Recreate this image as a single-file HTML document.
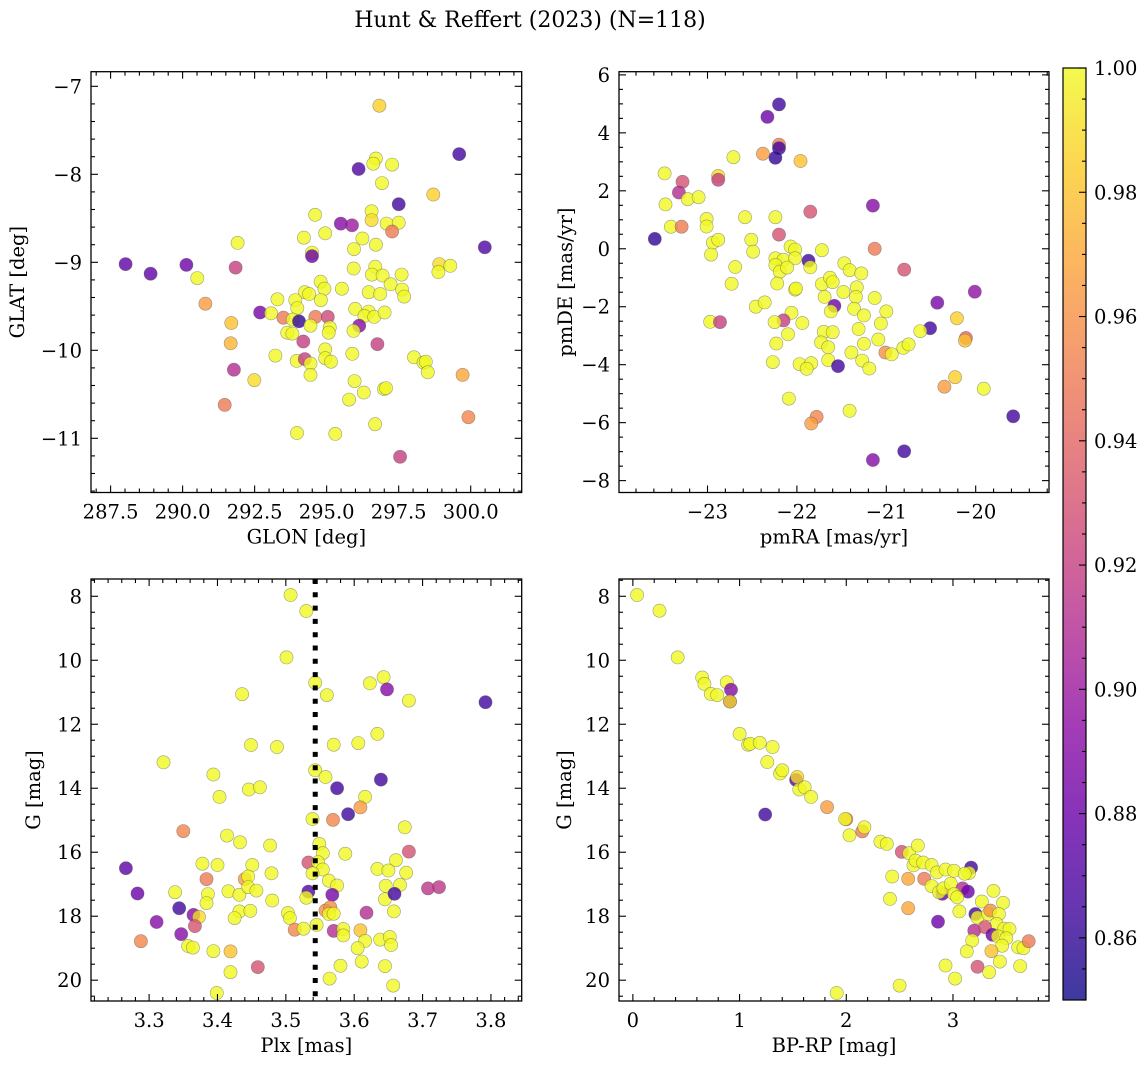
<!DOCTYPE html>
<html><head><meta charset="utf-8"><style>
html,body{margin:0;padding:0;background:#fff;}
svg{display:block;font-family:"DejaVu Serif","Liberation Serif",serif;}
</style></head><body>
<svg id="fig" width="1148" height="1068" viewBox="0 0 1148 1068" xmlns="http://www.w3.org/2000/svg">
<text x="530" y="27" font-size="22" text-anchor="middle">Hunt &amp; Reffert (2023) (N=118)</text>
</svg>
<script>
// ---- Panel 1: GLON vs GLAT ----
const glon1 = [296.83,299.6,296.11,296.71,296.62,297.27,296.92,298.70,297.5,294.6,296.56,296.56,297.08,297.5,297.27,295.49,295.88,294.21,294.95,296.24,295.95,296.71,291.91,294.49,294.49,300.49,288.02,288.89,290.13,291.84,290.51,295.94,296.69,296.57,296.94,297.6,298.91,298.88,299.29,294.79,294.92,295.53,297.22,294.24,294.39,296.46,296.86,297.62,297.69,293.29,293.91,294.80,293.98,290.79,292.69,293.07,293.5,293.82,294.04,294.61,295.04,295.99,296.46,296.31,296.65,297.01,291.69,294.44,295.11,295.07,296.13,295.93,293.63,293.81,291.67,294.19,296.76,294.95,295.89,293.22,294.95,295.15,293.96,294.24,294.44,298.03,298.36,298.44,298.51,291.78,294.44,292.49,295.97,296.99,297.06,296.29,295.78,299.72,291.46,299.92,296.68,293.97,295.3,297.55];
const glat1 = [-7.22,-7.77,-7.94,-7.82,-7.88,-7.89,-8.10,-8.23,-8.34,-8.46,-8.42,-8.52,-8.56,-8.55,-8.65,-8.56,-8.58,-8.72,-8.67,-8.73,-8.85,-8.80,-8.78,-8.89,-8.93,-8.83,-9.02,-9.13,-9.03,-9.06,-9.18,-9.07,-9.05,-9.14,-9.15,-9.14,-9.02,-9.11,-9.04,-9.22,-9.30,-9.30,-9.25,-9.34,-9.36,-9.34,-9.36,-9.31,-9.39,-9.42,-9.43,-9.43,-9.52,-9.47,-9.57,-9.58,-9.63,-9.65,-9.67,-9.62,-9.62,-9.53,-9.56,-9.61,-9.62,-9.57,-9.69,-9.72,-9.74,-9.80,-9.72,-9.78,-9.80,-9.81,-9.92,-9.90,-9.93,-9.99,-10.04,-10.06,-10.09,-10.13,-10.12,-10.10,-10.15,-10.08,-10.14,-10.13,-10.25,-10.22,-10.28,-10.34,-10.35,-10.44,-10.43,-10.48,-10.56,-10.28,-10.62,-10.76,-10.84,-10.94,-10.95,-11.21];
const prob1 = [.985,.865,.87,1,1,1,1,.985,.865,1,1,.99,1,1,.95,.89,.9,1,1,1,1,1,1,1,.88,.87,.875,.875,.88,.92,1,1,1,1,1,1,.99,1,1,1,1,1,1,1,1,1,1,1,1,1,1,1,1,.965,.885,1,.95,1,.86,.95,.925,1,1,1,1,1,.98,1,1,1,.89,1,1,1,.975,.92,.92,1,1,1,1,1,1,.92,1,1,1,1,1,.91,1,.99,1,1,1,1,1,.97,.95,.955,1,1,1,.92];

// ---- Panel 2: pmRA vs pmDE ----
const pmra2 = [-22.20,-22.33,-22.20,-22.20,-22.24,-22.38,-21.96,-22.71,-23.48,-23.28,-23.32,-22.88,-22.88,-23.47,-23.22,-23.10,-21.15,-21.85,-23.01,-23.01,-22.58,-22.24,-23.41,-23.29,-23.59,-22.20,-22.94,-22.88,-22.96,-22.51,-22.49,-22.07,-22.02,-21.72,-21.13,-22.24,-22.15,-22.02,-21.87,-21.85,-22.69,-22.24,-22.19,-22.11,-21.47,-21.41,-21.28,-20.80,-22.73,-22.22,-22.02,-22.01,-21.72,-21.63,-21.60,-21.48,-21.33,-21.34,-21.69,-21.58,-21.62,-21.36,-21.13,-22.46,-22.36,-20.01,-20.43,-21.25,-21.0,-22.06,-22.97,-22.86,-22.15,-22.25,-21.94,-20.21,-20.51,-20.62,-21.06,-21.31,-21.70,-21.60,-22.10,-20.11,-20.12,-21.09,-21.25,-21.73,-21.65,-22.23,-21.39,-21.01,-20.94,-20.81,-20.75,-21.27,-21.65,-21.19,-21.54,-22.27,-21.97,-21.84,-21.89,-20.35,-20.23,-19.91,-22.09,-21.41,-21.78,-21.84,-19.58,-20.80,-21.15];
const pmde2 = [4.98,4.55,3.59,3.47,3.14,3.28,3.03,3.16,2.60,2.31,1.94,2.51,2.38,1.53,1.71,1.78,1.49,1.28,1.03,0.77,1.09,1.09,0.76,0.76,0.34,0.49,0.21,0.31,-0.20,0.31,-0.10,0.08,-0.03,-0.05,0.0,-0.33,-0.38,-0.33,-0.41,-0.64,-0.63,-0.56,-0.79,-0.65,-0.50,-0.74,-0.85,-0.72,-1.21,-1.20,-1.41,-1.37,-1.22,-1.00,-1.15,-1.49,-1.33,-1.66,-1.66,-1.97,-2.16,-2.07,-1.70,-2.0,-1.85,-1.48,-1.86,-2.30,-2.16,-2.21,-2.52,-2.53,-2.47,-2.53,-2.56,-2.40,-2.74,-2.84,-2.58,-2.77,-2.87,-2.88,-2.95,-3.08,-3.17,-3.13,-3.28,-3.23,-3.40,-3.27,-3.58,-3.58,-3.64,-3.42,-3.30,-3.86,-3.84,-4.13,-4.05,-3.91,-3.98,-3.95,-4.14,-4.76,-4.43,-4.83,-5.17,-5.59,-5.80,-6.03,-5.78,-6.99,-7.29];
const prob2 = [.865,.88,.95,.865,.86,.965,.98,1,1,.93,.91,.99,.92,1,1,1,.89,.93,1,1,1,1,1,.95,.86,.93,1,1,1,1,1,1,1,1,.95,1,1,1,.865,1,1,1,1,1,1,1,1,.93,1,1,1,1,1,1,1,1,1,1,1,.88,1,1,1,1,1,.895,.885,1,1,1,1,.92,.92,1,1,.985,.865,1,1,1,1,1,1,.94,.98,1,1,1,1,1,1,.96,1,1,1,1,1,1,.865,1,1,1,1,.965,.985,1,1,1,.955,.965,.865,.865,.89];

// ---- Panel 3: Plx vs G ----
const plx3 = [3.507,3.530,3.501,3.543,3.560,3.643,3.623,3.648,3.680,3.792,3.436,3.321,3.449,3.487,3.570,3.606,3.634,3.394,3.403,3.446,3.462,3.543,3.558,3.575,3.639,3.616,3.609,3.591,3.569,3.539,3.674,3.350,3.414,3.433,3.477,3.549,3.554,3.587,3.680,3.661,3.266,3.378,3.400,3.451,3.533,3.547,3.554,3.634,3.650,3.676,3.479,3.384,3.440,3.445,3.539,3.563,3.575,3.646,3.667,3.708,3.724,3.283,3.338,3.386,3.416,3.432,3.445,3.457,3.533,3.530,3.568,3.645,3.659,3.384,3.480,3.344,3.365,3.373,3.432,3.425,3.448,3.503,3.506,3.558,3.565,3.563,3.570,3.618,3.658,3.311,3.367,3.347,3.288,3.513,3.526,3.545,3.570,3.584,3.584,3.609,3.616,3.638,3.652,3.654,3.605,3.357,3.364,3.394,3.419,3.611,3.580,3.645,3.459,3.419,3.564,3.657,3.399];
const gmag3 = [7.96,8.46,9.91,10.70,11.09,10.53,10.72,10.91,11.26,11.31,11.06,13.19,12.65,12.71,12.64,12.59,12.30,13.57,14.27,14.04,13.97,13.44,13.65,14.0,13.73,14.27,14.60,14.81,14.99,14.96,15.22,15.34,15.48,15.69,15.79,15.74,16.03,16.05,15.98,16.25,16.5,16.36,16.40,16.40,16.32,16.31,16.54,16.52,16.57,16.64,16.66,16.84,16.84,16.76,16.66,16.89,17.04,17.05,17.02,17.13,17.09,17.29,17.25,17.31,17.22,17.33,17.09,17.20,17.23,17.42,17.33,17.47,17.30,17.59,17.51,17.75,17.96,18.02,17.85,18.06,17.83,17.90,18.06,17.82,17.72,17.93,17.92,17.89,17.85,18.18,18.31,18.56,18.78,18.42,18.39,18.27,18.46,18.40,18.60,18.44,18.77,18.73,18.65,18.90,19.00,18.93,18.98,19.09,19.10,19.42,19.55,19.56,19.59,19.75,19.95,20.17,20.40];
const prob3 = [1,1,1,1,1,1,1,.89,1,.865,1,1,1,1,1,1,1,1,1,1,1,1,1,.865,.865,1,.965,.865,.955,1,1,.955,1,1,1,1,1,1,.93,1,.875,1,1,1,.93,1,1,1,1,1,1,.95,.965,1,1,1,1,1,1,.915,.915,.88,1,1,1,1,1,1,.87,1,.885,1,.865,1,1,.865,.89,.99,1,1,1,1,1,.96,.96,1,1,.91,1,.89,.93,.89,.955,.955,1,1,.91,1,1,.98,1,1,1,1,1,1,1,1,.98,1,1,1,.93,1,1,1,1];
const plxCut = 3.543;

// ---- Panel 4: BP-RP vs G ----
const bprp4 = [0.04,0.25,0.42,0.65,0.67,0.73,0.79,0.88,0.92,0.91,0.91,1.00,1.08,1.10,1.19,1.31,1.26,1.38,1.40,1.53,1.54,1.56,1.61,1.67,1.24,1.82,2.00,1.99,2.03,2.15,2.17,2.32,2.38,2.52,2.59,2.67,2.63,2.65,2.72,2.80,2.85,2.93,3.01,3.17,3.15,3.11,2.43,2.58,2.73,2.80,2.90,2.87,2.91,2.98,3.09,3.14,3.01,3.04,2.41,2.58,3.06,2.86,3.38,3.27,3.47,3.21,3.23,3.33,3.35,3.43,3.41,3.48,3.53,3.20,3.30,3.37,3.42,3.50,3.46,3.18,3.13,3.36,3.61,3.66,3.71,3.44,3.23,3.34,3.63,2.93,3.02,2.50,1.91];
const gmag4 = [7.96,8.45,9.91,10.54,10.74,11.05,11.09,10.69,10.92,11.29,11.29,12.30,12.64,12.61,12.58,12.71,13.18,13.54,13.44,13.74,13.65,14.04,13.97,14.27,14.82,14.59,14.97,14.96,15.47,15.35,15.22,15.67,15.74,15.99,16.03,15.79,16.41,16.26,16.32,16.40,16.63,16.54,16.58,16.48,16.65,16.67,16.76,16.83,16.83,17.06,17.30,17.25,17.13,16.98,17.13,17.23,17.31,17.41,17.46,17.75,17.85,18.17,17.21,17.54,17.58,17.93,18.04,17.93,17.82,17.93,18.24,18.39,18.40,18.45,18.34,18.58,18.63,18.69,18.92,18.76,19.10,19.09,18.97,19.00,18.78,19.42,19.58,19.75,19.56,19.54,19.95,20.17,20.40];
const prob4 = [1,1,1,1,1,1,1,1,.89,.88,.99,1,1,1,1,1,1,1,1,.87,.99,1,1,1,.865,.965,.95,1,1,.95,1,1,1,.93,1,1,1,1,1,1,1,1,1,.865,1,1,1,.97,.95,1,.88,1,1,1,.91,.88,1,1,1,.97,1,.88,1,1,1,.865,1,1,.96,1,1,1,1,.91,.93,.88,1,1,1,1,1,.98,1,1,.95,1,.93,1,1,1,1,1,1];

// ---- Colorbar ticks ----
const cbarTicks = [0.86,0.88,0.90,0.92,0.94,0.96,0.98,1.00];
const pMin = 0.85, pMax = 1.0;

const NS = "http://www.w3.org/2000/svg";
const svg = document.getElementById('fig');
const FS = 19.5;
function mk(tag, attrs, parent){ const e=document.createElementNS(NS,tag); for(const k in attrs) e.setAttribute(k,attrs[k]); (parent||svg).appendChild(e); return e; }

const plasma = ["#0d0887","#41049d","#6a00a8","#8f0da4","#b12a90","#cc4778","#e16462","#f2844b","#fca636","#fcce25","#f0f921"];
function hex(h){return [parseInt(h.substr(1,2),16),parseInt(h.substr(3,2),16),parseInt(h.substr(5,2),16)];}
function cmap(p){
  let t=(p-pMin)/(pMax-pMin); t=Math.max(0,Math.min(1,t));
  const f=t*10, i=Math.min(9,Math.floor(f)), r=f-i;
  const a=hex(plasma[i]), b=hex(plasma[i+1]);
  return 'rgb('+a.map((v,k)=>Math.round(v+(b[k]-v)*r)).join(',')+')';
}
function fmtNum(v,d){ const s=Math.abs(v).toFixed(d); return (v<0?'\u2212':'')+s; }

const panels = [
  {name:'glon-glat', px0:91, px1:521.7, py0:71.7, py1:492.5, x0:286.82, x1:301.77, y0:-11.616, y1:-6.834, inv:false,
   xMaj:[287.5,290,292.5,295,297.5,300], xMin:0.5, xd:1, yMaj:[-11,-10,-9,-8,-7], yMin:0.2, yd:0,
   xs:glon1, ys:glat1, ps:prob1, xl:'GLON [deg]', yl:'GLAT [deg]', ylx:24},
  {name:'pmra-pmde', px0:619, px1:1049, py0:71.7, py1:492.5, x0:-23.99, x1:-19.18, y0:-8.41, y1:6.11, inv:false,
   xMaj:[-23,-22,-21,-20], xMin:0.2, xd:0, yMaj:[-8,-6,-4,-2,0,2,4,6], yMin:0.5, yd:0,
   xs:pmra2, ys:pmde2, ps:prob2, xl:'pmRA [mas/yr]', yl:'pmDE [mas/yr]', ylx:572},
  {name:'plx-g', px0:91, px1:521.7, py0:579, py1:1001, x0:3.215, x1:3.845, y0:7.46, y1:20.65, inv:true,
   xMaj:[3.3,3.4,3.5,3.6,3.7,3.8], xMin:0.02, xd:1, yMaj:[8,10,12,14,16,18,20], yMin:0.5, yd:0,
   xs:plx3, ys:gmag3, ps:prob3, xl:'Plx [mas]', yl:'G [mag]', ylx:40},
  {name:'bprp-g', px0:619, px1:1049, py0:579, py1:1001, x0:-0.13, x1:3.90, y0:7.46, y1:20.65, inv:true,
   xMaj:[0,1,2,3], xMin:0.2, xd:0, yMaj:[8,10,12,14,16,18,20], yMin:0.5, yd:0,
   xs:bprp4, ys:gmag4, ps:prob4, xl:'BP-RP [mag]', yl:'G [mag]', ylx:571}
];

panels.forEach((P,pi)=>{
  const sx = v => P.px0 + (v-P.x0)/(P.x1-P.x0)*(P.px1-P.px0);
  const sy = v => P.inv ? P.py0 + (v-P.y0)/(P.y1-P.y0)*(P.py1-P.py0)
                        : P.py1 - (v-P.y0)/(P.y1-P.y0)*(P.py1-P.py0);
  const g = mk('g',{});
  
  
  const clipId='clip'+pi;
  const cp=mk('clipPath',{id:clipId},g);
  mk('rect',{x:P.px0,y:P.py0,width:P.px1-P.px0,height:P.py1-P.py0},cp);
  const pts = mk('g',{'clip-path':'url(#'+clipId+')'},g);
  
  
  for(let i=0;i<P.xs.length;i++){
    const c = mk('circle',{cx:sx(P.xs[i]).toFixed(1),cy:sy(P.ys[i]).toFixed(1),r:6.6,fill:cmap(P.ps[i]),'fill-opacity':0.8,stroke:'#555','stroke-opacity':0.55,'stroke-width':0.6},pts);
    
    
  }
  if(pi===2){
    const ln2 = mk('line',{x1:sx(plxCut),x2:sx(plxCut),y1:P.py0,y2:P.py1,stroke:'#000','stroke-width':5,'stroke-dasharray':'5 8.3'},pts);
    
    
  }
  const fr = mk('rect',{x:P.px0,y:P.py0,width:P.px1-P.px0,height:P.py1-P.py0,fill:'none',stroke:'#000','stroke-width':1.3},g);
  
  
  const tk = mk('g',{stroke:'#000','stroke-width':1.1},g);
  
  
  const xstart=Math.ceil(P.x0/P.xMin-1e-6), xend=Math.floor(P.x1/P.xMin+1e-6);
  for(let k=xstart;k<=xend;k++){ const v=k*P.xMin, x=sx(v);
    const maj=P.xMaj.some(m=>Math.abs(m-v)<1e-6); const L=maj?7:4;
    mk('line',{x1:x,x2:x,y1:P.py1,y2:P.py1-L},tk); mk('line',{x1:x,x2:x,y1:P.py0,y2:P.py0+L},tk); }
  const ystart=Math.ceil(P.y0/P.yMin-1e-6), yend=Math.floor(P.y1/P.yMin+1e-6);
  for(let k=ystart;k<=yend;k++){ const v=k*P.yMin, y=sy(v);
    const maj=P.yMaj.some(m=>Math.abs(m-v)<1e-6); const L=maj?7:4;
    mk('line',{x1:P.px0,x2:P.px0+L,y1:y,y2:y},tk); mk('line',{x1:P.px1,x2:P.px1-L,y1:y,y2:y},tk); }
  P.xMaj.forEach(v=>{ const t=mk('text',{x:sx(v),y:P.py1+26,'font-size':FS,'text-anchor':'middle'},g); t.textContent=fmtNum(v,P.xd);
      });
  P.yMaj.forEach(v=>{ const t=mk('text',{x:P.px0-9,y:sy(v)+7,'font-size':FS,'text-anchor':'end'},g); t.textContent=fmtNum(v,P.yd);
      });
  const xl=mk('text',{x:(P.px0+P.px1)/2,y:P.py1+51,'font-size':FS,'text-anchor':'middle'},g); xl.textContent=P.xl;
   
  const yc=(P.py0+P.py1)/2;
  const yl=mk('text',{x:P.ylx,y:yc,'font-size':FS,'text-anchor':'middle',transform:'rotate(-90 '+P.ylx+' '+yc+')'},g); yl.textContent=P.yl;
   
});

(function(){
  const cx0=1063, cx1=1086, cy0=68, cy1=1000;
  const cy = v => cy1 - (v-pMin)/(pMax-pMin)*(cy1-cy0);
  const g = mk('g',{});
  
  
  const defs=mk('defs',{},g);
  const lg=mk('linearGradient',{id:'cbg',x1:0,y1:1,x2:0,y2:0},defs);
  for(let i=0;i<=20;i++){ const t=i/20; mk('stop',{offset:t,'stop-color':cmap(pMin+t*(pMax-pMin))},lg); }
  mk('rect',{x:cx0,y:cy0,width:cx1-cx0,height:cy1-cy0,fill:'url(#cbg)','fill-opacity':0.8},g);
  mk('rect',{x:cx0,y:cy0,width:cx1-cx0,height:cy1-cy0,fill:'none',stroke:'#000','stroke-width':1.2},g);
  const tk=mk('g',{stroke:'#000','stroke-width':1.1},g);
  for(let k=Math.round(pMin/0.005);k<=Math.round(pMax/0.005);k++){ const v=k*0.005, y=cy(v);
    const maj=cbarTicks.some(m=>Math.abs(m-v)<1e-6); mk('line',{x1:cx1,x2:cx1-(maj?7:4),y1:y,y2:y},tk); }
  cbarTicks.forEach(v=>{ const t=mk('text',{x:1094,y:cy(v)+7,'font-size':FS},g); t.textContent=v.toFixed(2);
      });
})();
</script>
</body></html>
